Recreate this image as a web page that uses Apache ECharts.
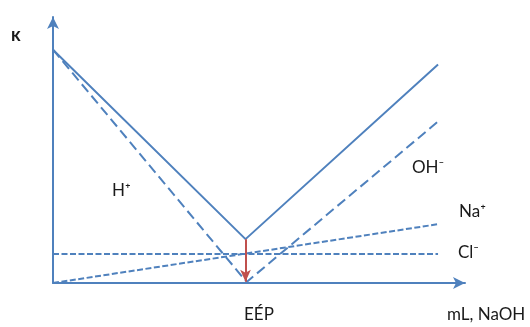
<!DOCTYPE html>
<html><head><meta charset="utf-8">
<script src="https://cdn.jsdelivr.net/npm/echarts@6/dist/echarts.min.js"></script>
<style>html,body{margin:0;padding:0;background:#fff}#c{width:530px;height:327px}</style>
</head><body><div id="c"></div>
<script>
// mL NaOH (arbitrary units), equivalence point at 10
const eep = 10;
const total = [[0, 100], [10, 18.8], [20, 93.6]];
const hPlus = [[0, 100], [10, 1]];
const ohMinus = [[10, 0], [20, 69.2]];
const naPlus = [[0, 0], [20, 25.2]];
const clMinus = [[0, 12.4], [20, 12.4]];
const labels = ['κ', 'H⁺', 'OH⁻', 'Na⁺', 'Cl⁻', 'EÉP', 'mL, NaOH'];

const blue = '#4F81BD', red = '#C0504D';
const font = 'Lato, "Open Sans", sans-serif';
const chart = echarts.init(document.getElementById('c'));
const dashed = (name, data, pattern) => ({
  type: 'line', name, data, symbol: 'none', silent: true,
  lineStyle: { color: blue, width: 2, type: pattern }
});
const txt = (s, left, top, size, bold) => ({
  type: 'text', left, top,
  style: { text: s, font: (bold ? 'bold ' : '') + size + 'px ' + font, fill: '#1a1a1a' }
});
chart.setOption({
  animation: false,
  grid: { left: 53, right: 65, top: 17, bottom: 44 },
  xAxis: {
    type: 'value', min: 0, max: 21.4,
    axisLine: { lineStyle: { color: blue, width: 2 }, symbol: ['none', 'arrow'], symbolSize: [9, 12] },
    axisTick: { show: false }, axisLabel: { show: false }, splitLine: { show: false }
  },
  yAxis: {
    type: 'value', min: 0, max: 114,
    axisLine: { show: true, lineStyle: { color: blue, width: 2 }, symbol: ['none', 'arrow'], symbolSize: [9, 12] },
    axisTick: { show: false }, axisLabel: { show: false }, splitLine: { show: false }
  },
  series: [
    { type: 'line', name: 'total', data: total, symbol: 'none', silent: true,
      lineStyle: { color: blue, width: 2 },
      markLine: { silent: true, symbol: ['none', 'arrow'], symbolSize: [8, 12],
        lineStyle: { color: red, width: 2, type: 'solid' }, label: { show: false },
        data: [[{ coord: [eep, total[1][1]] }, { coord: [eep, 0.5] }]] } },
    dashed('H+', hPlus, [10, 5]),
    dashed('OH-', ohMinus, [10, 5]),
    dashed('Na+', naPlus, [6, 2.5]),
    dashed('Cl-', clMinus, [6, 2.5])
  ],
  graphic: [
    txt(labels[0], 11, 26, 18, true),
    txt(labels[1], 112, 182, 17),
    txt(labels[2], 412, 159, 17),
    txt(labels[3], 459, 203, 17),
    txt(labels[4], 458, 244, 17),
    txt(labels[5], 244, 306, 17),
    txt(labels[6], 447, 306, 17)
  ]
});
</script></body></html>
